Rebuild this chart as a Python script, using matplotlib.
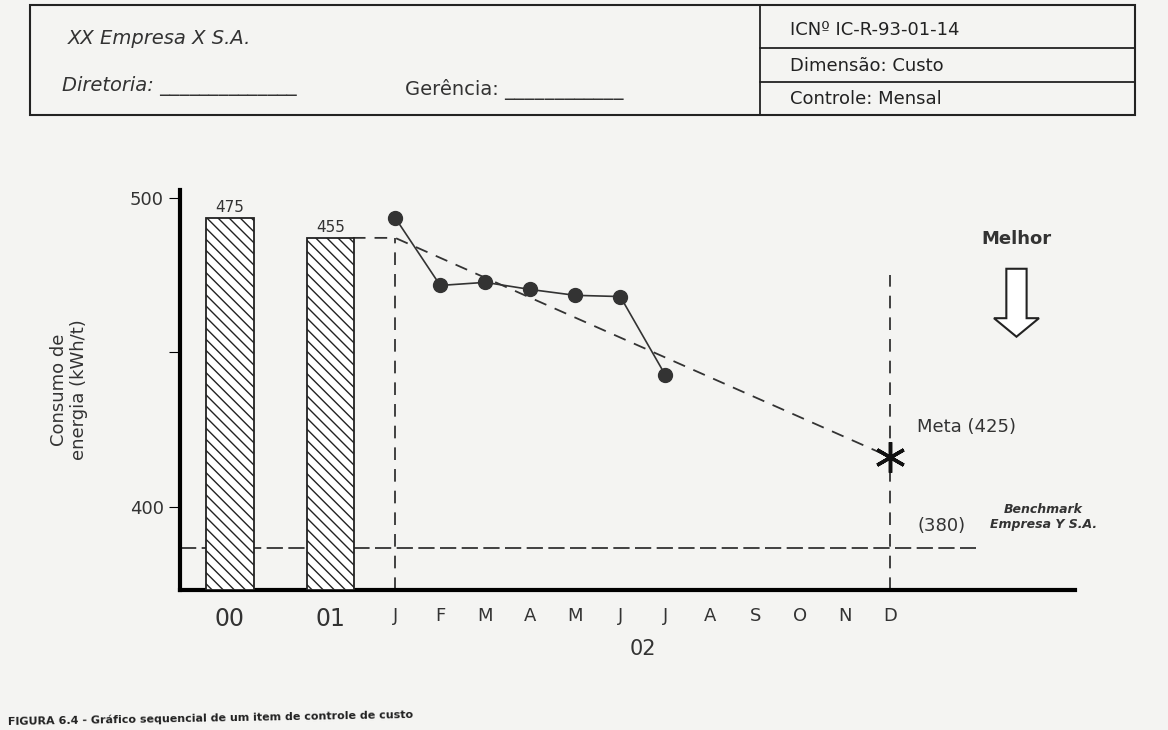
import matplotlib
matplotlib.use("Agg")
import matplotlib.pyplot as plt
from matplotlib.patches import Rectangle, FancyArrow

years = ["00", "01"]
year_values = [475, 455]
year_heights = [493.5, 487.0]
months = ["J", "F", "M", "A", "M", "J", "J", "A", "S", "O", "N", "D"]
actual = [493.5, 471.6, 472.6, 470.3, 468.4, 468.0, 442.6]
goal_start = 487.0
goal_end = 416.0
benchmark = 386.5

W, H = 1168, 730
fig = plt.figure(figsize=(W/100, H/100), dpi=100)
fig.patch.set_facecolor("#f4f4f2")

def fx(px): return px / W
def fy(py): return 1 - py / H

# header box
ov = fig.add_axes([0, 0, 1, 1], zorder=-1)
ov.set_xlim(0, W); ov.set_ylim(H, 0); ov.axis("off")
ov.add_patch(Rectangle((30, 5), 1105, 110, fill=False, lw=1.5, color="#222"))
ov.plot([760, 760], [5, 115], color="#222", lw=1.3)
ov.plot([760, 1135], [48, 48], color="#222", lw=1.3)
ov.plot([760, 1135], [82, 82], color="#222", lw=1.3)
ov.text(68, 38, "XX Empresa X S.A.", fontsize=14, style="italic", color="#333", va="center")
ov.text(62, 86, "Diretoria: ______________", fontsize=14, style="italic", color="#333", va="center")
ov.text(405, 90, "Gerência: ____________", fontsize=14, color="#333", va="center")
ov.text(790, 30, "ICNº IC-R-93-01-14", fontsize=13, color="#222", va="center")
ov.text(790, 66, "Dimensão: Custo", fontsize=13, color="#222", va="center")
ov.text(790, 99, "Controle: Mensal", fontsize=13, color="#222", va="center")
ov.text(8, 718, "FIGURA 6.4 - Gráfico sequencial de um item de controle de custo",
        fontsize=8, weight="bold", color="#222", va="center", rotation=1)

ax = fig.add_axes([fx(180), fy(590), fx(1075) - fx(180), fy(190) - fy(590)])
ax.set_facecolor("none")
x0 = -4.78
ax.set_xlim(x0, 15.1)
ax.set_ylim(373, 502.5)
for s in ["top", "right"]:
    ax.spines[s].set_visible(False)
ax.spines["left"].set_linewidth(3)
ax.spines["bottom"].set_linewidth(3)
ax.set_yticks([400, 450, 500])
ax.set_yticklabels(["400", "", "500"], fontsize=13, color="#333")
ax.tick_params(axis="y", length=8)
ax.set_ylabel("Consumo de\nenergia (kWh/t)", fontsize=13, color="#333", labelpad=30)

bar_x = [-3.67, -1.44]
ax.bar(bar_x, [h - 373 for h in year_heights], bottom=373, width=1.05,
       color="white", edgecolor="#222", hatch="\\\\\\", lw=1.3, zorder=3)
for x, h, v in zip(bar_x, year_heights, year_values):
    ax.text(x, h + 0.8, str(v), ha="center", va="bottom", fontsize=11, color="#333")

mx = list(range(12))
ax.set_xticks(bar_x + mx)
ax.set_xticklabels(years + months, fontsize=13, color="#333")
for lab in ax.get_xticklabels()[:2]:
    lab.set_fontsize(17)
ax.tick_params(axis="x", length=0, pad=12)
ax.text(5.5, 352, "02", ha="center", fontsize=15, color="#333")

ax.plot(mx[:len(actual)], actual, "-o", color="#333", ms=10, lw=1.2, zorder=4)
ax.plot([bar_x[1] + 0.5, 0, 11], [goal_start, goal_start, goal_end], "--",
        color="#333", lw=1.3, dashes=(7, 5))
ax.plot([0, 0], [373, goal_start], "--", color="#333", lw=1.3, dashes=(7, 5))
ax.plot([11, 11], [373, 475], "--", color="#333", lw=1.3, dashes=(7, 5))
ax.plot([x0, 12.9], [benchmark, benchmark], "--", color="#333", lw=1.3, dashes=(9, 3))
ax.plot(11, goal_end, marker=(6, 2, 0), ms=22, color="#111", mew=2.5)
ax.text(11.6, 424, "Meta (425)", fontsize=13, color="#333")
ax.text(11.6, 392, "(380)", fontsize=13, color="#333")
ax.text(14.4, 393, "Benchmark\nEmpresa Y S.A.", fontsize=9, style="italic",
        weight="bold", ha="center", color="#333")
ax.text(13.8, 485, "Melhor", fontsize=13, weight="bold", ha="center", color="#333")
ax.add_patch(FancyArrow(13.8, 477, 0, -22, width=0.45, head_width=1.0,
                        head_length=6, fc="white", ec="#222", lw=1.5,
                        length_includes_head=True))

fig.savefig("out.png", dpi=100, facecolor=fig.get_facecolor())
